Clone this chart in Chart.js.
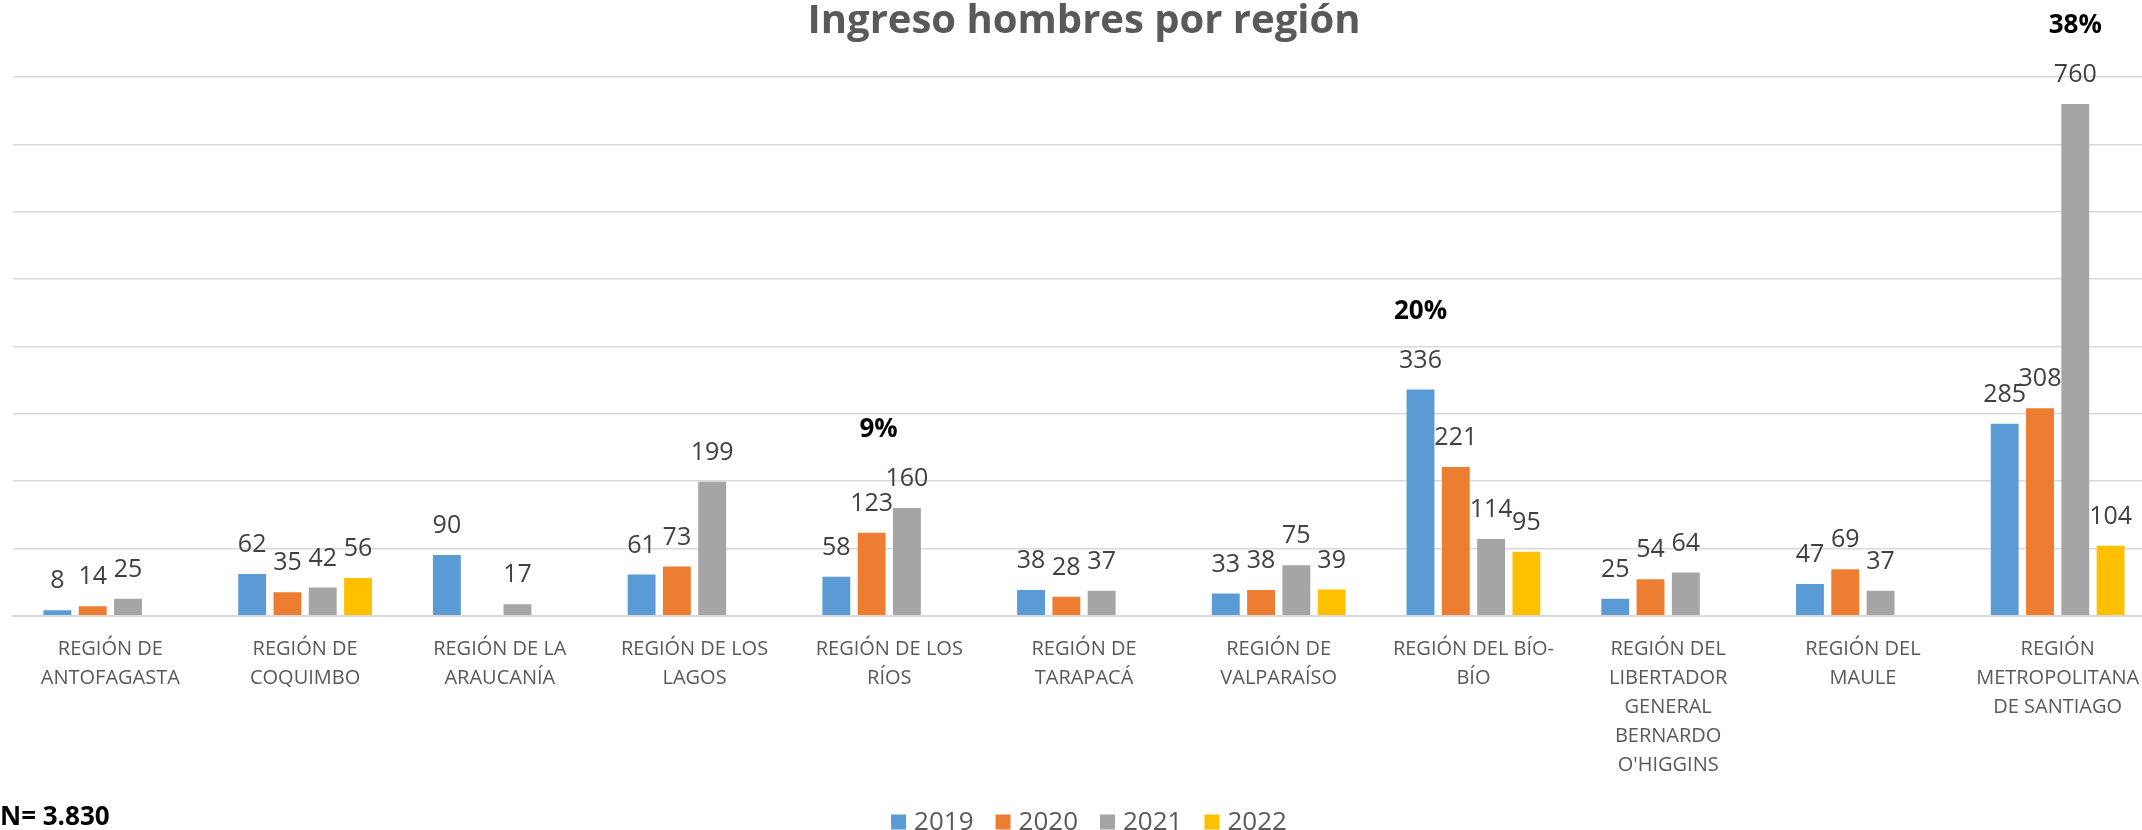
<!DOCTYPE html>
<html>
<head>
<meta charset="utf-8">
<script src="https://cdn.jsdelivr.net/npm/chart.js@4.4.1/dist/chart.umd.min.js"></script>
<style>
  html, body { margin: 0; padding: 0; background: #ffffff; overflow: hidden; }
  #wrap { position: relative; width: 2168px; height: 830px; }
</style>
</head>
<body>
<div id="wrap"><canvas id="chart"></canvas></div>
<script>
// Regions (multi-line axis labels)
const regions = [
  ['REGIÓN DE', 'ANTOFAGASTA'],
  ['REGIÓN DE', 'COQUIMBO'],
  ['REGIÓN DE LA', 'ARAUCANÍA'],
  ['REGIÓN DE LOS', 'LAGOS'],
  ['REGIÓN DE LOS', 'RÍOS'],
  ['REGIÓN DE', 'TARAPACÁ'],
  ['REGIÓN DE', 'VALPARAÍSO'],
  ['REGIÓN DEL BÍO-', 'BÍO'],
  ['REGIÓN DEL', 'LIBERTADOR', 'GENERAL', 'BERNARDO', "O'HIGGINS"],
  ['REGIÓN DEL', 'MAULE'],
  ['REGIÓN', 'METROPOLITANA', 'DE SANTIAGO']
];

const years = ['2019', '2020', '2021', '2022'];

// Admissions of men per region and year (null = no admissions recorded)
const men2019 = [8, 62, 90, 61, 58, 38, 33, 336, 25, 47, 285];
const men2020 = [14, 35, null, 73, 123, 28, 38, 221, 54, 69, 308];
const men2021 = [25, 42, 17, 199, 160, 37, 75, 114, 64, 37, 760];
const men2022 = [null, 56, null, null, null, null, 39, 95, null, null, 104];

// Share of the total shown over selected regions
const shareLabels = ['', '', '', '', '9%', '', '', '20%', '', '', '38%'];

const yTicks = [0, 100, 200, 300, 400, 500, 600, 700, 800];

const chartTitle = 'Ingreso hombres por región';
const totalNote = 'N= 3.830';

const seriesColors = ['#5B9BD5', '#ED7D31', '#A5A5A5', '#FFC000'];
const seriesValues = [men2019, men2020, men2021, men2022];

const FONT = '"Open Sans", "Noto Sans", sans-serif';

// Value labels above each bar + share labels over the regions
const barLabels = {
  id: 'barLabels',
  afterDatasetsDraw(chart, args, opts) {
    const { ctx } = chart;
    ctx.save();
    ctx.textAlign = 'center';
    ctx.textBaseline = 'middle';
    ctx.font = '25px ' + FONT;
    ctx.fillStyle = '#404040';
    chart.data.datasets.forEach((ds, i) => {
      chart.getDatasetMeta(i).data.forEach((bar, j) => {
        const v = ds.data[j];
        if (v === null || v === undefined) return;
        ctx.fillText(String(v), bar.x, bar.y - 29);
      });
    });

    ctx.font = 'bold 26px ' + FONT;
    ctx.fillStyle = '#000000';
    shareLabels.forEach((txt, j) => {
      if (!txt) return;
      const anchor = opts.anchors[j];
      const bar = chart.getDatasetMeta(anchor).data[j];
      let top = Infinity;
      chart.data.datasets.forEach((ds, i) => {
        const b = chart.getDatasetMeta(i).data[j];
        if (ds.data[j] !== null && b) top = Math.min(top, b.y);
      });
      ctx.fillText(txt, bar.x + (opts.shift[j] || 0), top - 78);
    });
    ctx.restore();
  }
};

// Title, bottom legend and total note
const decorations = {
  id: 'decorations',
  afterDraw(chart) {
    const { ctx } = chart;
    ctx.save();
    // title
    ctx.font = 'bold 40px ' + FONT;
    ctx.fillStyle = '#595959';
    ctx.textAlign = 'center';
    ctx.textBaseline = 'alphabetic';
    ctx.fillText(chartTitle, chart.width / 2, 33);

    // legend
    ctx.font = '26px ' + FONT;
    ctx.textAlign = 'left';
    ctx.textBaseline = 'middle';
    const box = 15, gapText = 8, gapItem = 22;
    const items = chart.data.datasets.map(ds => ({
      label: ds.label, color: ds.backgroundColor, w: ctx.measureText(ds.label).width
    }));
    const total = items.reduce((s, it) => s + box + gapText + it.w, 0) + gapItem * (items.length - 1);
    let x = chart.width / 2 + 5 - total / 2;
    const cy = 822;
    items.forEach(it => {
      ctx.fillStyle = it.color;
      ctx.fillRect(x, cy - box / 2, box, box);
      x += box + gapText;
      ctx.fillStyle = '#595959';
      ctx.fillText(it.label, x, cy + 1);
      x += it.w + gapItem;
    });

    // total note
    ctx.font = 'bold 26px ' + FONT;
    ctx.fillStyle = '#000000';
    ctx.textBaseline = 'alphabetic';
    ctx.fillText(totalNote, 0, 825);
    ctx.restore();
  }
};

new Chart(document.getElementById('chart'), {
  type: 'bar',
  data: {
    labels: regions,
    datasets: years.map((y, i) => ({
      label: y,
      data: seriesValues[i],
      backgroundColor: seriesColors[i],
      borderWidth: 0,
      categoryPercentage: 0.725,
      barPercentage: 0.79
    }))
  },
  options: {
    responsive: true,
    maintainAspectRatio: false,
    animation: false,
    devicePixelRatio: 1,
    layout: { padding: { top: 77, left: 13, right: 13, bottom: 0 } },
    plugins: {
      legend: { display: false },
      title: { display: false },
      tooltip: { enabled: false },
      barLabels: { anchors: { 4: 1, 7: 0, 10: 2 }, shift: { 4: 7 } }
    },
    scales: {
      x: {
        grid: { display: false, drawTicks: false },
        border: { display: true, color: '#d9d9d9', width: 2 },
        ticks: {
          color: '#595959',
          font: { family: FONT, size: 20, lineHeight: 29 / 20 },
          padding: 19,
          maxRotation: 0,
          autoSkip: false
        },
        afterFit(scale) { scale.height = 830 - 615.7; }
      },
      y: {
        min: yTicks[0],
        max: yTicks[yTicks.length - 1],
        afterBuildTicks(scale) { scale.ticks = yTicks.map(v => ({ value: v })); },
        ticks: { display: false },
        grid: { color: '#d9d9d9', lineWidth: 1.5, drawTicks: false },
        border: { display: false },
        afterFit(scale) { scale.width = 0; }
      }
    }
  },
  plugins: [barLabels, decorations]
});
</script>
</body>
</html>
